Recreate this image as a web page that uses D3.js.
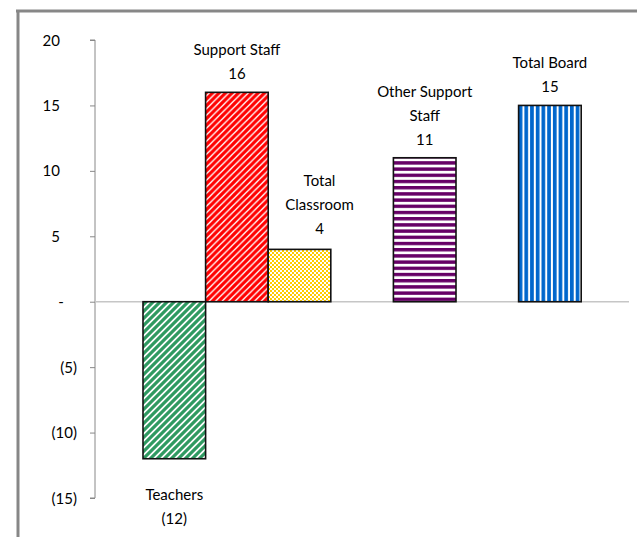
<!DOCTYPE html>
<html>
<head>
<meta charset="utf-8">
<script src="https://cdn.jsdelivr.net/npm/d3@7"></script>
<style>
  body { margin: 0; background: white; }
  text { font-family: Lato, sans-serif; font-size: 15px; fill: #000; }
</style>
</head>
<body>
<svg id="chart" width="637" height="537"></svg>
<script>
// chart data
const categories = ["Teachers", "Support Staff", "Total Classroom", "Other Support Staff", "Total Board"];
const values = [-12, 16, 4, 11, 15];
const slots = [0, 1, 2, 4, 6]; // position of each bar, gaps between groups
const labelLines = [["Teachers", "(12)"], ["Support Staff", "16"], ["Total", "Classroom", "4"], ["Other Support", "Staff", "11"], ["Total Board", "15"]];
const yTicks = [20, 15, 10, 5, 0, -5, -10, -15];

const fills = ["green", "red", "yellow", "purple", "blue"];

const svg = d3.select("#chart");

// frame (top and left edges visible)
svg.append("line").attr("x1", 16).attr("x2", 637).attr("y1", 11).attr("y2", 11)
    .attr("stroke", "#878787").attr("stroke-width", 3);
svg.append("line").attr("x1", 18).attr("x2", 18).attr("y1", 10).attr("y2", 537)
    .attr("stroke", "#878787").attr("stroke-width", 3);

// patterns
const defs = svg.append("defs");

function diagPattern(id, color, size, w) {
    const p = defs.append("pattern").attr("id", id).attr("patternUnits", "userSpaceOnUse")
        .attr("width", size).attr("height", size);
    p.append("rect").attr("width", size).attr("height", size).attr("fill", "white");
    p.append("path")
        .attr("d", `M${-size},${size} L${size},${-size} M0,${2 * size} L${2 * size},0 M0,${size} L${size},0`)
        .attr("stroke", color).attr("stroke-width", w);
}
diagPattern("green", "#2f9a61", 7, 3.2);
diagPattern("red", "#ff0000", 6.5, 3.2);

const yel = defs.append("pattern").attr("id", "yellow").attr("patternUnits", "userSpaceOnUse")
    .attr("width", 4).attr("height", 4);
yel.append("rect").attr("width", 4).attr("height", 4).attr("fill", "white");
yel.append("rect").attr("width", 2).attr("height", 2).attr("fill", "#ffcc00");
yel.append("rect").attr("x", 2).attr("y", 2).attr("width", 2).attr("height", 2).attr("fill", "#ffcc00");

const pur = defs.append("pattern").attr("id", "purple").attr("patternUnits", "userSpaceOnUse")
    .attr("width", 6).attr("height", 6.2);
pur.append("rect").attr("width", 6).attr("height", 6.2).attr("fill", "white");
pur.append("rect").attr("width", 6).attr("height", 3.4).attr("fill", "#660066");

const blu = defs.append("pattern").attr("id", "blue").attr("patternUnits", "userSpaceOnUse")
    .attr("width", 5.7).attr("height", 6);
blu.append("rect").attr("width", 5.7).attr("height", 6).attr("fill", "white");
blu.append("rect").attr("width", 3.7).attr("height", 6).attr("fill", "#0066cc");

// scales
const y = d3.scaleLinear().domain([-15, 20]).range([498, 40]);
const slotW = 62.6;
const x = d3.scaleLinear().domain([0, 1]).range([143, 143 + slotW]);

// y axis
const yAxis = svg.append("g").attr("transform", "translate(95,0)")
    .call(d3.axisLeft(y).tickValues(yTicks).tickSize(5).tickFormat(""));
yAxis.select(".domain").attr("stroke", "#888").attr("d", `M-5,${y(20)}H0V${y(-15)}H-5`);
yAxis.selectAll(".tick line").attr("stroke", "#888");

// accounting style tick labels
svg.append("g").selectAll("text")
    .data(yTicks)
    .enter().append("text")
    .attr("x", d => d < 0 ? 77 : (d === 0 ? 61 : 60))
    .attr("y", d => y(d) + 5.5)
    .attr("text-anchor", d => d === 0 ? "middle" : "end")
    .text(d => d < 0 ? `(${-d})` : (d === 0 ? "-" : d));

// zero line
svg.append("line").attr("x1", 95).attr("x2", 629).attr("y1", y(0)).attr("y2", y(0))
    .attr("stroke", "#c6c6c6").attr("stroke-width", 1.5);

// bars
svg.selectAll(".bar")
    .data(values)
    .enter().append("rect")
    .attr("class", "bar")
    .attr("x", (d, i) => x(slots[i]))
    .attr("width", slotW)
    .attr("y", d => y(Math.max(0, d)))
    .attr("height", d => Math.abs(y(d) - y(0)))
    .attr("fill", (d, i) => `url(#${fills[i]})`)
    .attr("stroke", "#111")
    .attr("stroke-width", 1.6);

// data labels
const labelShift = [0, 0, 20, 0, 0];
const lineH = 24;
svg.selectAll(".lbl")
    .data(values)
    .enter().append("text")
    .attr("class", "lbl")
    .attr("text-anchor", "middle")
    .attr("transform", (d, i) => {
        const cx = x(slots[i]) + slotW / 2 + labelShift[i];
        const n = labelLines[i].length;
        let top;
        if (d < 0) top = y(d) + 41;
        else if (i === 2) top = y(d) - 10 - (n - 1) * lineH - 5;
        else top = y(d) - 13 - (n - 1) * lineH;
        return `translate(${cx},${top})`;
    })
    .each(function (d, i) {
        d3.select(this).selectAll("tspan")
            .data(labelLines[i])
            .enter().append("tspan")
            .attr("x", 0)
            .attr("dy", (t, j) => j === 0 ? 0 : lineH)
            .text(t => t);
    });
</script>
</body>
</html>
